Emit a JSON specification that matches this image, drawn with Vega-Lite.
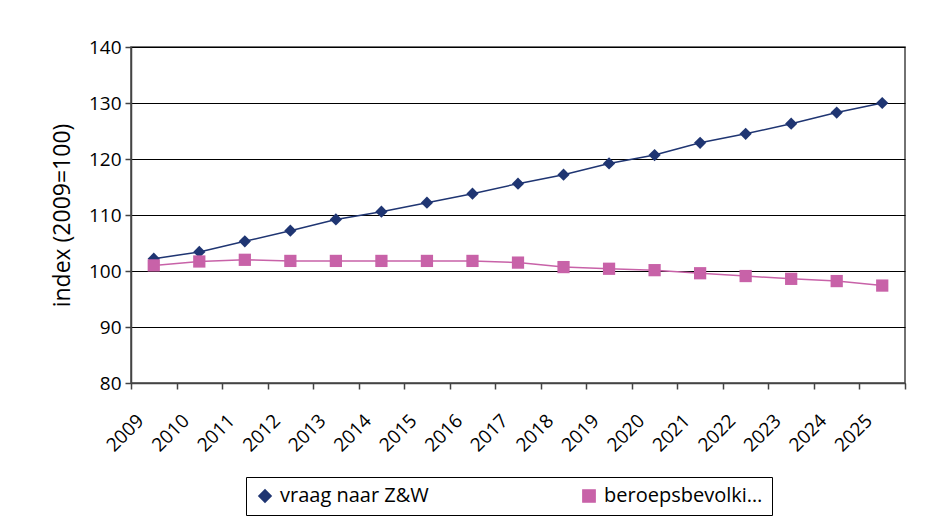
{
  "$schema": "https://vega.github.io/schema/vega-lite/v6.json",
  "width": 774,
  "height": 336,
  "autosize": {"type": "none"},
  "padding": {"left": 131, "top": 47, "right": 31, "bottom": 136},
  "background": "white",
  "config": {
    "font": "Open Sans",
    "view": {"stroke": "#444444", "strokeWidth": 1.5},
    "axis": {
      "labelFont": "Open Sans",
      "titleFont": "Open Sans",
      "labelColor": "black",
      "titleColor": "black",
      "labelFontSize": 19,
      "titleFontSize": 23,
      "titleFontWeight": "normal"
    },
    "legend": {"labelFont": "Open Sans", "labelFontSize": 20, "labelColor": "black"}
  },
  "data": {
    "values": [
      {"year": "2009", "series": "vraag naar Z&W", "value": 102.2},
      {"year": "2010", "series": "vraag naar Z&W", "value": 103.4},
      {"year": "2011", "series": "vraag naar Z&W", "value": 105.3},
      {"year": "2012", "series": "vraag naar Z&W", "value": 107.2},
      {"year": "2013", "series": "vraag naar Z&W", "value": 109.2},
      {"year": "2014", "series": "vraag naar Z&W", "value": 110.6},
      {"year": "2015", "series": "vraag naar Z&W", "value": 112.2},
      {"year": "2016", "series": "vraag naar Z&W", "value": 113.8},
      {"year": "2017", "series": "vraag naar Z&W", "value": 115.6},
      {"year": "2018", "series": "vraag naar Z&W", "value": 117.2},
      {"year": "2019", "series": "vraag naar Z&W", "value": 119.2},
      {"year": "2020", "series": "vraag naar Z&W", "value": 120.7},
      {"year": "2021", "series": "vraag naar Z&W", "value": 122.9},
      {"year": "2022", "series": "vraag naar Z&W", "value": 124.5},
      {"year": "2023", "series": "vraag naar Z&W", "value": 126.3},
      {"year": "2024", "series": "vraag naar Z&W", "value": 128.3},
      {"year": "2025", "series": "vraag naar Z&W", "value": 130.0},
      {"year": "2009", "series": "beroepsbevolking", "value": 101.0},
      {"year": "2010", "series": "beroepsbevolking", "value": 101.7},
      {"year": "2011", "series": "beroepsbevolking", "value": 102.0},
      {"year": "2012", "series": "beroepsbevolking", "value": 101.8},
      {"year": "2013", "series": "beroepsbevolking", "value": 101.8},
      {"year": "2014", "series": "beroepsbevolking", "value": 101.8},
      {"year": "2015", "series": "beroepsbevolking", "value": 101.8},
      {"year": "2016", "series": "beroepsbevolking", "value": 101.8},
      {"year": "2017", "series": "beroepsbevolking", "value": 101.5},
      {"year": "2018", "series": "beroepsbevolking", "value": 100.7},
      {"year": "2019", "series": "beroepsbevolking", "value": 100.4},
      {"year": "2020", "series": "beroepsbevolking", "value": 100.15},
      {"year": "2021", "series": "beroepsbevolking", "value": 99.6},
      {"year": "2022", "series": "beroepsbevolking", "value": 99.1},
      {"year": "2023", "series": "beroepsbevolking", "value": 98.6},
      {"year": "2024", "series": "beroepsbevolking", "value": 98.2},
      {"year": "2025", "series": "beroepsbevolking", "value": 97.4}
    ]
  },
  "encoding": {
    "x": {
      "field": "year",
      "type": "ordinal",
      "title": null,
      "scale": {"type": "band", "paddingInner": 0, "paddingOuter": 0},
      "axis": {
        "tickBand": "extent",
        "labelAngle": -45,
        "labelAlign": "right",
        "labelBaseline": "top",
        "labelFontSize": 19,
        "labelPadding": 22,
        "labelOffset": -20,
        "domainColor": "#444444",
        "domainWidth": 1.5,
        "tickColor": "#444444",
        "tickWidth": 1.5,
        "tickSize": 6,
        "grid": false
      }
    },
    "y": {
      "field": "value",
      "type": "quantitative",
      "title": "index (2009=100)",
      "scale": {"domain": [80, 140], "nice": false, "zero": false},
      "axis": {
        "values": [80, 90, 100, 110, 120, 130, 140],
        "labelFontSize": 19,
        "labelPadding": 4,
        "titleFontSize": 23,
        "titlePadding": 14,
        "domainColor": "#444444",
        "domainWidth": 1.5,
        "tickColor": "#444444",
        "tickWidth": 1.5,
        "tickSize": 6,
        "grid": true,
        "gridColor": "black",
        "gridWidth": 1.2,
        "gridOpacity": 1
      }
    },
    "color": {
      "field": "series",
      "type": "nominal",
      "scale": {"domain": ["vraag naar Z&W", "beroepsbevolking"], "range": ["#1F3572", "#C862A8"]},
      "legend": {
        "orient": "none",
        "legendX": 115,
        "legendY": 430,
        "direction": "horizontal",
        "title": null,
        "strokeColor": "black",
        "padding": 9,
        "labelFontSize": 20,
        "labelColor": "black",
        "labelOffset": 5,
        "columnPadding": 150,
        "symbolSize": 150
      }
    }
  },
  "layer": [
    {
      "mark": {"type": "line", "strokeWidth": 1.5}
    },
    {
      "mark": {"type": "point", "filled": true, "opacity": 1, "size": 150},
      "encoding": {
        "shape": {
          "field": "series",
          "type": "nominal",
          "scale": {"domain": ["vraag naar Z&W", "beroepsbevolking"], "range": ["diamond", "square"]}
        }
      }
    }
  ]
}
